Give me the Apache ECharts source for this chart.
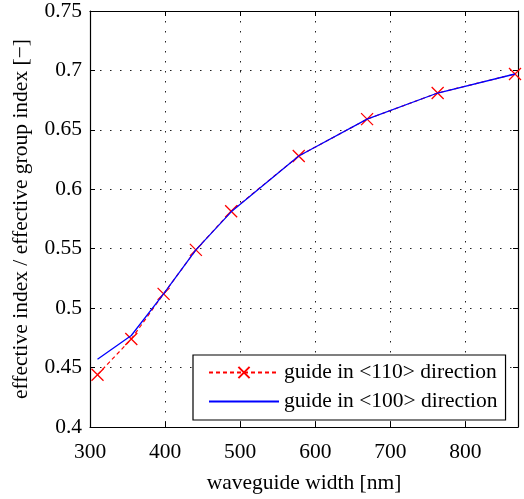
<!DOCTYPE html>
<html>
<head>
<meta charset="utf-8">
<script src="https://cdn.jsdelivr.net/npm/echarts@6/dist/echarts.min.js"></script>
<style>
  html, body { margin: 0; padding: 0; background: #fff; }
  #chart { width: 524px; height: 499px; }
</style>
</head>
<body>
<div id="chart"></div>
<script>
// Waveguide widths [nm]
const widths = [310, 355, 398, 441, 488, 578, 669, 763, 866];
// Ratio of effective index to effective group index
const guide110 = [0.444, 0.474, 0.512, 0.549, 0.5815, 0.628, 0.659, 0.681, 0.697];
const guide100 = [0.457, 0.477, 0.512, 0.549, 0.581, 0.628, 0.659, 0.681, 0.697];
const seriesNames = ['guide in <110> direction', 'guide in <100> direction'];
const xTicks = [300, 400, 500, 600, 700, 800];

const FONT = 'Liberation Serif';
const FS = 21.5;
const pairs = (xs, ys) => xs.map((x, i) => [x, ys[i]]);

const dotted = { color: '#222', width: 1, type: [1.5, 8.5] };
const baseX = {
  type: 'value', min: 300, max: 870, interval: 100,
  axisLine: { show: true, onZero: false, lineStyle: { color: '#000', width: 1.2 } },
  axisTick: { show: true, inside: true, length: 5, lineStyle: { color: '#000' } },
};
const baseY = {
  type: 'value', min: 0.4, max: 0.75, interval: 0.05,
  axisLine: { show: true, onZero: false, lineStyle: { color: '#000', width: 1.2 } },
  axisTick: { show: true, inside: true, length: 5, lineStyle: { color: '#000' } },
};

const chart = echarts.init(document.getElementById('chart'), null, { renderer: 'canvas' });
chart.setOption({
  animation: false,
  backgroundColor: '#fff',
  textStyle: { fontFamily: FONT },
  grid: { left: 90, right: 6, top: 8, bottom: 66 },
  xAxis: [
    Object.assign({}, baseX, {
      position: 'bottom',
      name: 'waveguide width [nm]', nameLocation: 'middle', nameGap: 45,
      nameTextStyle: { fontFamily: FONT, fontSize: FS, color: '#000' },
      axisLabel: {
        fontFamily: FONT, fontSize: FS, color: '#000', margin: 14,
        formatter: v => (xTicks.includes(v) ? String(v) : '')
      },
      splitLine: { show: true, lineStyle: dotted }
    }),
    Object.assign({}, baseX, {
      position: 'top', axisLabel: { show: false }, splitLine: { show: false }
    })
  ],
  yAxis: [
    Object.assign({}, baseY, {
      position: 'left',
      name: 'effective index / effective group index [\u2212]', nameLocation: 'middle', nameGap: 58,
      nameTextStyle: { fontFamily: FONT, fontSize: FS, color: '#000' },
      axisLabel: { fontFamily: FONT, fontSize: FS, color: '#000', margin: 8 },
      splitLine: { show: true, lineStyle: dotted }
    }),
    Object.assign({}, baseY, {
      position: 'right', axisLabel: { show: false }, splitLine: { show: false }
    })
  ],
  legend: {
    orient: 'vertical',
    left: 193, top: 355,
    padding: [6, 8, 7, 15],
    itemGap: 6,
    itemWidth: 70, itemHeight: 14,
    backgroundColor: '#fff',
    borderColor: '#000', borderWidth: 1.2,
    textStyle: { fontFamily: FONT, fontSize: FS, color: '#000', lineHeight: 23 },
    data: [
      { name: seriesNames[0] },
      { name: seriesNames[1], itemStyle: { color: 'rgba(0,0,0,0)', borderWidth: 0, opacity: 0 } }
    ]
  },
  series: [
    {
      name: seriesNames[0], type: 'line',
      data: pairs(widths, guide110),
      symbol: 'path://M0,0L10,10M10,0L0,10', symbolSize: 12,
      itemStyle: { color: 'rgba(0,0,0,0)', borderColor: '#ff0000', borderWidth: 1.3 },
      lineStyle: { color: '#ff0000', width: 1.2, type: [4, 3] },
      z: 2
    },
    {
      name: seriesNames[1], type: 'line',
      data: pairs(widths, guide100),
      symbol: 'none', showSymbol: false,
      itemStyle: { color: '#0000ff' },
      lineStyle: { color: '#0000ff', width: 1.3 },
      z: 3
    }
  ]
});
</script>
</body>
</html>
